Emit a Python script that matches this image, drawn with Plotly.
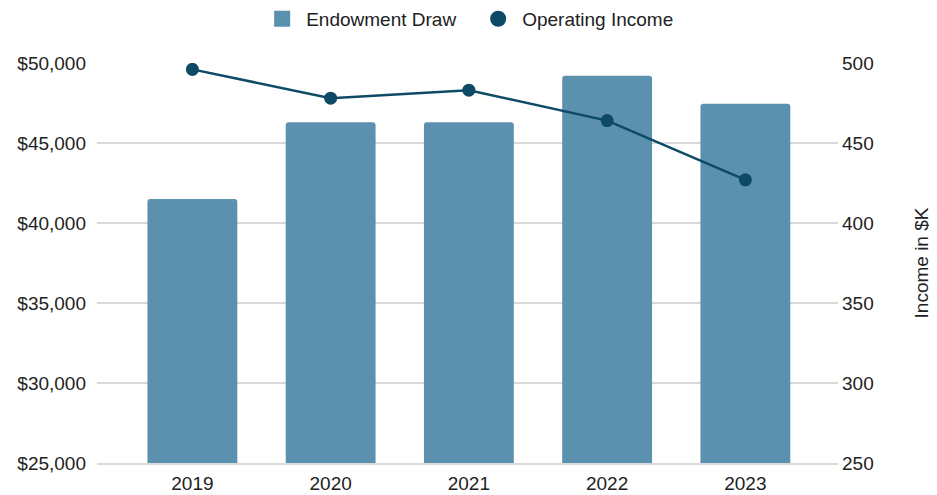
import plotly.graph_objects as go

years = ["2019", "2020", "2021", "2022", "2023"]
endowment_draw = [41500, 46300, 46300, 49200, 47450]
operating_income = [496, 478, 483, 464, 427]

left_ticks = [25000, 30000, 35000, 40000, 45000, 50000]
left_tick_labels = ["$25,000", "$30,000", "$35,000", "$40,000", "$45,000", "$50,000"]
right_ticks = [250, 300, 350, 400, 450, 500]

bar_color = "#5b90ae"
line_color = "#0d4a66"
grid_color = "#d9d9d9"
font_family = "Arial, Liberation Sans, sans-serif"
fs = 19

fig = go.Figure()
fig.add_trace(go.Bar(
    x=years, y=endowment_draw, name="Endowment Draw",
    marker=dict(color=bar_color, line=dict(width=0)),
    width=0.65, yaxis="y", showlegend=False,
))
fig.add_trace(go.Scatter(
    x=years, y=operating_income, name="Operating Income",
    mode="lines+markers", yaxis="y2",
    line=dict(color=line_color, width=2.5),
    marker=dict(color=line_color, size=13),
    showlegend=False,
))
# legend-only entries
fig.add_trace(go.Scatter(
    x=[None], y=[None], name="Endowment Draw", mode="markers",
    marker=dict(color=bar_color, size=19, symbol="square"), yaxis="y",
))
fig.add_trace(go.Scatter(
    x=[None], y=[None], name="Operating Income", mode="markers",
    marker=dict(color=line_color, size=20, symbol="circle"), yaxis="y2",
))

fig.update_layout(
    width=937, height=495,
    margin=dict(l=89, r=107, t=55, b=40),
    paper_bgcolor="white", plot_bgcolor="white",
    font=dict(family=font_family, size=fs, color="#222222"),
    barcornerradius=3,
    legend=dict(orientation="h", x=0.509, xanchor="center", y=0.978, yanchor="middle",
                yref="container", font=dict(size=fs, color="#222222"),
                traceorder="normal", itemwidth=38, entrywidth=163,
                entrywidthmode="pixels"),
    xaxis=dict(type="category", range=[-0.69, 4.67], showgrid=False,
               showline=True, linecolor=grid_color, linewidth=1.5, automargin=False,
               ticks="", tickfont=dict(size=fs), ticklabelstandoff=2),
    yaxis=dict(range=[25000, 50000], tickvals=left_ticks, ticktext=left_tick_labels,
               showgrid=True, gridcolor=grid_color, gridwidth=1.5, zeroline=False,
               showline=False, ticks="", tickfont=dict(size=fs), ticklabelstandoff=10,
               automargin=False),
    yaxis2=dict(range=[250, 500], tickvals=right_ticks, overlaying="y", side="right",
                showgrid=False, zeroline=False, showline=False, ticks="",
                tickfont=dict(size=fs), ticklabelstandoff=3, automargin=False,
                title=dict(text="Income in $K", font=dict(size=fs), standoff=41)),
)

fig.write_html("out.html")
